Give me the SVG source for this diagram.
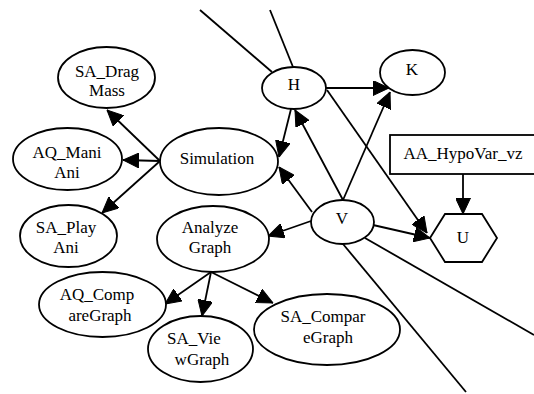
<svg xmlns="http://www.w3.org/2000/svg" width="534" height="394" viewBox="0 0 534 394">
  <style>
    .node ellipse, .node polygon, .node rect { fill: #fff; stroke: #000; stroke-width: 1.8; }
    .node text { font-family: "Liberation Serif", "Times New Roman", serif; font-size: 17px; fill: #000; text-anchor: middle; }
    .edges line { stroke: #000; stroke-width: 1.8; }
    .edges line.arrow { marker-end: url(#head); }
  </style>
  <defs>
    <marker id="head" markerUnits="userSpaceOnUse" viewBox="0 0 16 15" refX="16" refY="7.5" markerWidth="16" markerHeight="15" orient="auto">
      <path d="M0,0 L16,7.5 L0,15 z" fill="#000" stroke="#000" stroke-width="1"/>
    </marker>
  </defs>

  <!-- connectors -->
  <g id="edges" class="edges">
    <line x1="200" y1="10" x2="272" y2="72"/>
    <line x1="270" y1="10" x2="293" y2="67"/>
    <line x1="343" y1="244" x2="466" y2="392"/>
    <line x1="365" y1="238" x2="534" y2="335"/>
    <line class="arrow" x1="160" y1="161" x2="107" y2="110"/>
    <line class="arrow" x1="160" y1="161" x2="123" y2="160"/>
    <line class="arrow" x1="160" y1="161" x2="102" y2="213"/>
    <line class="arrow" x1="326" y1="88" x2="389" y2="88"/>
    <line class="arrow" x1="343" y1="200" x2="390" y2="92"/>
    <line class="arrow" x1="327" y1="90" x2="427" y2="233"/>
    <line class="arrow" x1="373" y1="225" x2="430" y2="238"/>
    <line class="arrow" x1="343" y1="200" x2="295" y2="110"/>
    <line class="arrow" x1="291" y1="109" x2="279" y2="157"/>
    <line class="arrow" x1="312" y1="212" x2="279" y2="167"/>
    <line class="arrow" x1="311" y1="221" x2="268" y2="236"/>
    <line class="arrow" x1="211" y1="272" x2="165" y2="304"/>
    <line class="arrow" x1="211" y1="272" x2="202" y2="316"/>
    <line class="arrow" x1="211" y1="272" x2="273" y2="303"/>
    <line class="arrow" x1="463" y1="174" x2="463" y2="214"/>
  </g>

  <g id="SA_DragMass" class="node">
    <ellipse cx="106.5" cy="77.5" rx="48.5" ry="30.5"/>
    <text x="107" y="77">SA_Drag</text>
    <text x="107" y="96">Mass</text>
  </g>
  <g id="AQ_ManiAni" class="node">
    <ellipse cx="67.5" cy="159" rx="54.5" ry="31"/>
    <text x="67" y="158">AQ_Mani</text>
    <text x="67" y="178">Ani</text>
  </g>
  <g id="Simulation" class="node">
    <ellipse cx="219" cy="161.5" rx="59" ry="33.5"/>
    <text x="217" y="164">Simulation</text>
  </g>
  <g id="SA_PlayAni" class="node">
    <ellipse cx="68.5" cy="236" rx="48.5" ry="31"/>
    <text x="66" y="233">SA_Play</text>
    <text x="66" y="253">Ani</text>
  </g>
  <g id="AnalyzeGraph" class="node">
    <ellipse cx="213" cy="239" rx="56" ry="33"/>
    <text x="210" y="233">Analyze</text>
    <text x="210" y="253">Graph</text>
  </g>
  <g id="AQ_CompareGraph" class="node">
    <ellipse cx="102.5" cy="304.5" rx="63.5" ry="32.5"/>
    <text x="97" y="300">AQ_Comp</text>
    <text x="100" y="321">areGraph</text>
  </g>
  <g id="SA_ViewGraph" class="node">
    <ellipse cx="200.5" cy="349" rx="52.5" ry="33"/>
    <text x="194" y="344">SA_Vie</text>
    <text x="202" y="365">wGraph</text>
  </g>
  <g id="SA_CompareGraph" class="node">
    <ellipse cx="327" cy="329.5" rx="73" ry="35.5"/>
    <text x="323" y="322">SA_Compar</text>
    <text x="328" y="343">eGraph</text>
  </g>
  <g id="H" class="node">
    <ellipse cx="294" cy="88" rx="32" ry="21"/>
    <text x="294" y="90">H</text>
  </g>
  <g id="K" class="node">
    <ellipse cx="412.5" cy="72.5" rx="32.5" ry="22.5"/>
    <text x="412" y="75">K</text>
  </g>
  <g id="V" class="node">
    <ellipse cx="342.5" cy="222" rx="31.5" ry="22"/>
    <text x="342" y="224">V</text>
  </g>
  <g id="AA_HypoVar_vz" class="node">
    <rect x="390" y="135" width="146" height="39"/>
    <text x="463" y="159">AA_HypoVar_vz</text>
  </g>
  <g id="U" class="node">
    <polygon points="430,238 445,214 482,214 497,238 482,262 445,262"/>
    <text x="463" y="243">U</text>
  </g>
</svg>
